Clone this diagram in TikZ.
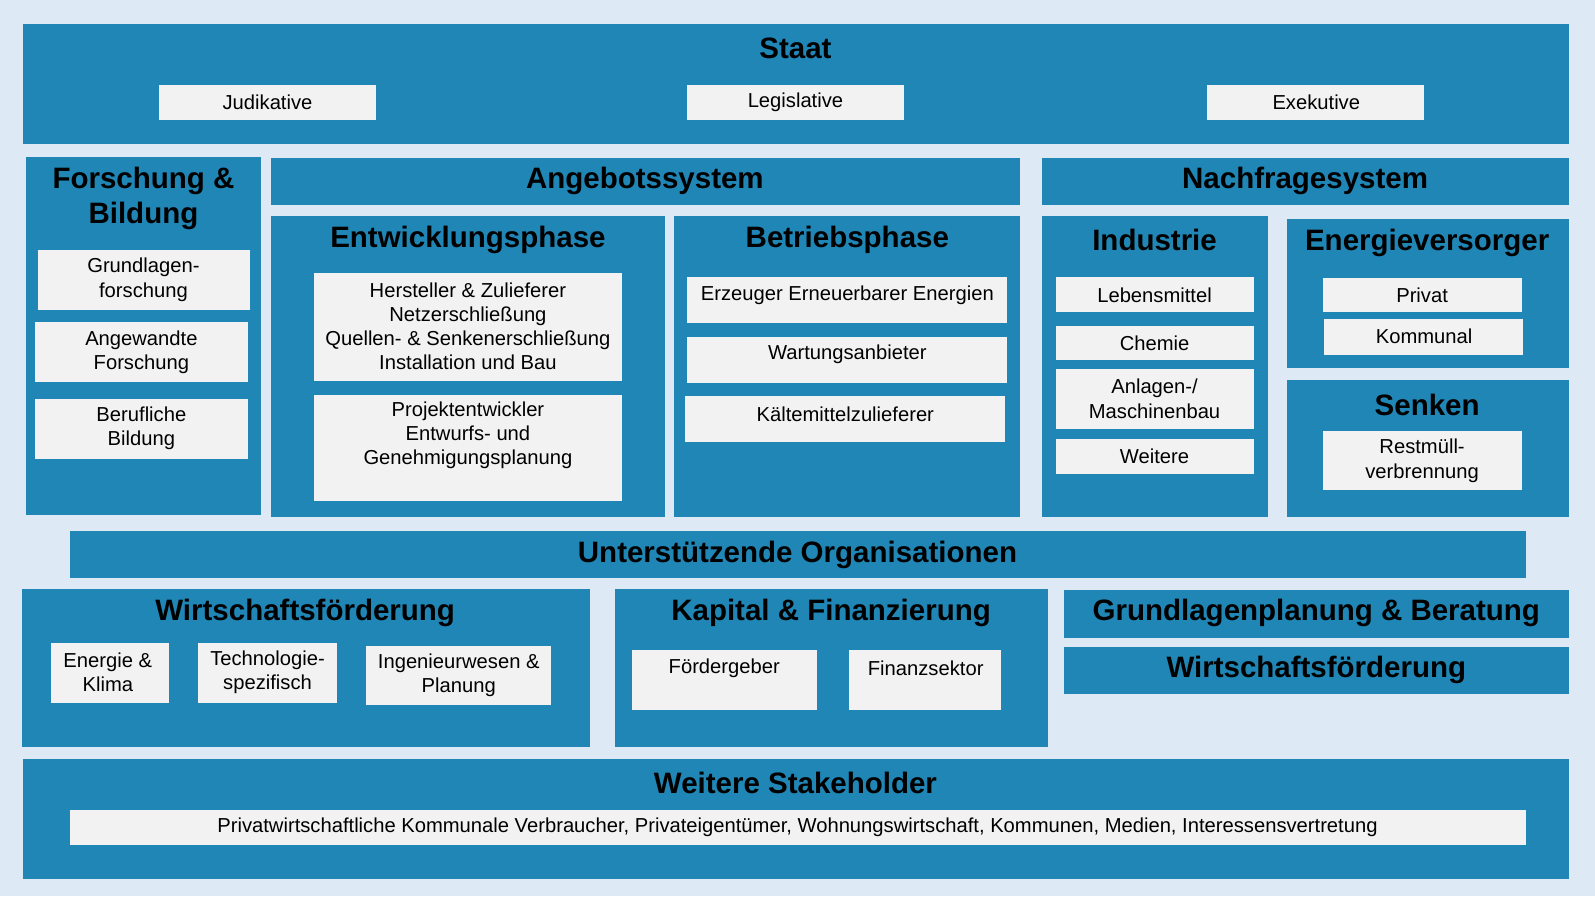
\documentclass[tikz,border=0pt]{standalone}
\usepackage{fontspec}
\setmainfont{Liberation Sans}
\definecolor{bgblue}{HTML}{DDE9F5}
\definecolor{boxblue}{HTML}{1F86B6}
\definecolor{wfill}{HTML}{F2F2F2}
\tikzset{
  bbox/.style={fill=boxblue},
  wbox/.style={fill=wfill},
  head/.style={font=\fontsize{16.5}{19.5}\selectfont\bfseries, align=center, text=black},
  txt/.style={font=\fontsize{11.3}{13.5}\selectfont, align=center, text=black}
}
\begin{document}
\begin{tikzpicture}[x=0.02cm, y=-0.02cm]
\fill[bgblue] (0,0) rectangle (1568,881);
% Staat
\fill[bbox] (23,24) rectangle (1542,142);
\node[head] (staat) at (782,48) {Staat};
\fill[wbox] (156,84) rectangle (370,118);
\fill[wbox] (675,84) rectangle (889,118);
\fill[wbox] (1187,84) rectangle (1400,118);
\node[txt] (jud) at (263,101) {Judikative};
\node[txt] (leg) at (782,101) {Legislative};
\node[txt] (exe) at (1294,101) {Exekutive};
% Forschung
\fill[bbox] (26,154) rectangle (257,506);
\node[head] (fb) at (141,195) {Forschung \&\\Bildung};
\fill[wbox] (37,246) rectangle (246,305);
\fill[wbox] (34,317) rectangle (244,376);
\fill[wbox] (34,392) rectangle (244,451);
\node[txt] (gf) at (141,275) {Grundlagen-\\forschung};
\node[txt] (af) at (139,346) {Angewandte\\Forschung};
\node[txt] (bb) at (139,421) {Berufliche\\Bildung};
% Angebotssystem
\fill[bbox] (266,155) rectangle (1003,202);
\node[head] (ang) at (634,178) {Angebotssystem};
\fill[bbox] (266,212) rectangle (654,508);
\node[head] (ent) at (460,236) {Entwicklungsphase};
\fill[wbox] (309,268) rectangle (611,375);
\fill[wbox] (309,388) rectangle (611,493);
\node[txt] (hz) at (460,321) {Hersteller \& Zulieferer\\Netzerschließung\\Quellen- \& Senkenerschließung\\Installation und Bau};
\node[txt] (pe) at (460,428) {Projektentwickler\\Entwurfs- und\\Genehmigungsplanung};
\fill[bbox] (663,212) rectangle (1003,508);
\node[head] (bet) at (833,236) {Betriebsphase};
\fill[wbox] (675,272) rectangle (990,318);
\fill[wbox] (675,331) rectangle (990,377);
\fill[wbox] (673,389) rectangle (988,435);
\node[txt] (eee) at (833,290) {Erzeuger Erneuerbarer Energien};
\node[txt] (wa) at (833,348) {Wartungsanbieter};
\node[txt] (kz) at (831,407) {Kältemittelzulieferer};
% Nachfragesystem
\fill[bbox] (1024,155) rectangle (1542,202);
\node[head] (nach) at (1283,178) {Nachfragesystem};
\fill[bbox] (1024,212) rectangle (1247,508);
\node[head] (ind) at (1135,236) {Industrie};
\fill[wbox] (1038,272) rectangle (1233,307);
\fill[wbox] (1038,320) rectangle (1233,354);
\fill[wbox] (1038,363) rectangle (1233,422);
\fill[wbox] (1038,432) rectangle (1233,466);
\node[txt] (lm) at (1135,290) {Lebensmittel};
\node[txt] (ch) at (1135,337) {Chemie};
\node[txt] (am) at (1135,392) {Anlagen-/\\Maschinenbau};
\node[txt] (we) at (1135,449) {Weitere};
\fill[bbox] (1265,215) rectangle (1542,362);
\node[head] (ev) at (1403,239) {Energieversorger};
\fill[wbox] (1301,273) rectangle (1496,307);
\fill[wbox] (1302,314) rectangle (1497,349);
\node[txt] (pr) at (1398,290) {Privat};
\node[txt] (ko) at (1400,331) {Kommunal};
\fill[bbox] (1265,374) rectangle (1542,508);
\node[head] (se) at (1403,398) {Senken};
\fill[wbox] (1301,424) rectangle (1496,482);
\node[txt] (rv) at (1398,453) {Restmüll-\\verbrennung};
% Unterstuetzende Organisationen
\fill[bbox] (69,522) rectangle (1500,568);
\node[head] (uo) at (784,546) {Unterstützende Organisationen};
\fill[bbox] (22,579) rectangle (580,734);
\node[head] (wf) at (300,603) {Wirtschaftsförderung};
\fill[wbox] (50,632) rectangle (166,691);
\fill[wbox] (195,632) rectangle (331,691);
\fill[wbox] (360,635) rectangle (542,693);
\node[txt] (ek) at (106,661) {Energie \&\\Klima};
\node[txt] (ts) at (263,661) {Technologie-\\spezifisch};
\node[txt] (ip) at (451,664) {Ingenieurwesen \&\\Planung};
\fill[bbox] (605,579) rectangle (1030,734);
\node[head] (kf) at (817,603) {Kapital \& Finanzierung};
\fill[wbox] (621,639) rectangle (803,698);
\fill[wbox] (835,639) rectangle (984,698);
\node[txt] (fg) at (712,657) {Fördergeber};
\node[txt] (fs) at (910,657) {Finanzsektor};
\fill[bbox] (1046,580) rectangle (1542,627);
\node[head] (gpb) at (1294,603) {Grundlagenplanung \& Beratung};
\fill[bbox] (1046,636) rectangle (1542,682);
\node[head] (wf2) at (1294,659) {Wirtschaftsförderung};
% Weitere Stakeholder
\fill[bbox] (23,746) rectangle (1542,864);
\node[head] (ws) at (782,770) {Weitere Stakeholder};
\fill[wbox] (69,796) rectangle (1500,831);
\node[txt] (pk) at (784,813) {Privatwirtschaftliche Kommunale Verbraucher, Privateigentümer, Wohnungswirtschaft, Kommunen, Medien, Interessensvertretung};
\end{tikzpicture}
\end{document}
